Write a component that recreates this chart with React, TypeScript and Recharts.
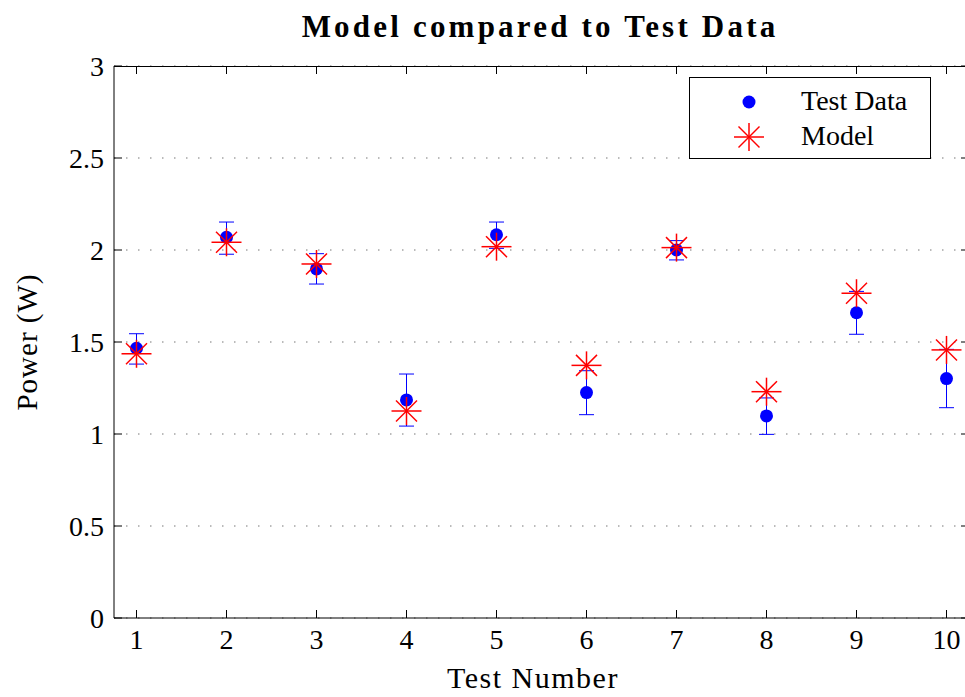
import React from "react";
import {
  ScatterChart,
  Scatter,
  XAxis,
  YAxis,
  CartesianGrid,
  ErrorBar,
} from "recharts";

const testNumbers = [1, 2, 3, 4, 5, 6, 7, 8, 9, 10];
const testPower = [1.466, 2.069, 1.897, 1.185, 2.083, 1.225, 2.0, 1.098, 1.659, 1.301];
const testLow = [1.38, 1.977, 1.815, 1.043, 2.009, 1.105, 1.946, 0.998, 1.542, 1.143];
const testHigh = [1.545, 2.152, 1.98, 1.326, 2.152, 1.344, 2.051, 1.196, 1.775, 1.46];
const modelPower = [1.436, 2.042, 1.924, 1.125, 2.018, 1.373, 2.013, 1.23, 1.765, 1.457];

const xTicks = [1, 2, 3, 4, 5, 6, 7, 8, 9, 10];
const yTicks = [0, 0.5, 1, 1.5, 2, 2.5, 3];

const testData = testNumbers.map((x, i) => ({
  x,
  y: testPower[i],
  err: [testPower[i] - testLow[i], testHigh[i] - testPower[i]],
}));
const modelData = testNumbers.map((x, i) => ({ x, y: modelPower[i] }));

// plot box (px)
const W = 980;
const H = 697;
const LEFT = 114;
const RIGHT = 969;
const TOP = 66;
const BOTTOM = 618;
const TICK = 8;
const FONT = "'Liberation Serif', 'Times New Roman', serif";

const Dot = (props: any) => (
  <circle cx={props.cx} cy={props.cy} r={6.5} fill="#0000ff" />
);

const Star = (props: any) => {
  const { cx, cy } = props;
  return (
    <g stroke="#ff0000" strokeWidth={1.5}>
      <line x1={cx - 15} y1={cy} x2={cx + 15} y2={cy} />
      <line x1={cx} y1={cy - 14} x2={cx} y2={cy + 14} />
      <line x1={cx - 10.5} y1={cy - 10.5} x2={cx + 10.5} y2={cy + 10.5} />
      <line x1={cx - 10.5} y1={cy + 10.5} x2={cx + 10.5} y2={cy - 10.5} />
    </g>
  );
};

const XTick = (props: any) => {
  const { x, payload } = props;
  return (
    <g>
      <line x1={x} y1={BOTTOM} x2={x} y2={BOTTOM - TICK} stroke="#000" />
      <line x1={x} y1={TOP} x2={x} y2={TOP + TICK} stroke="#000" />
      <text
        x={x}
        y={BOTTOM + 31}
        textAnchor="middle"
        fontFamily={FONT}
        fontSize={28}
        fill="#000"
      >
        {payload.value}
      </text>
    </g>
  );
};

const YTick = (props: any) => {
  const { y, payload } = props;
  return (
    <g>
      <line x1={LEFT} y1={y} x2={LEFT + TICK} y2={y} stroke="#000" />
      <line x1={RIGHT} y1={y} x2={RIGHT - TICK} y2={y} stroke="#000" />
      <text
        x={LEFT - 10}
        y={y + 10}
        textAnchor="end"
        fontFamily={FONT}
        fontSize={28}
        fill="#000"
      >
        {payload.value}
      </text>
    </g>
  );
};

export default function App() {
  return (
    <div
      style={{
        position: "absolute",
        left: 0,
        top: 0,
        width: 965,
        height: 697,
        overflow: "hidden",
        background: "#fff",
        fontFamily: FONT,
      }}
    >
      <ScatterChart
        width={W}
        height={H}
        margin={{ top: TOP, right: W - RIGHT, bottom: 0, left: 0 }}
      >
        <CartesianGrid
          vertical={false}
          stroke="#777"
          strokeDasharray="1.5 10.5"
        />
        <XAxis
          type="number"
          dataKey="x"
          domain={[0.75, 10.25]}
          ticks={xTicks}
          allowDataOverflow
          height={H - BOTTOM}
          tickSize={0}
          tickLine={false}
          tick={<XTick />}
          stroke="#000"
          interval={0}
        />
        <YAxis
          type="number"
          dataKey="y"
          domain={[0, 3]}
          ticks={yTicks}
          allowDataOverflow
          width={LEFT}
          tickSize={0}
          tickLine={false}
          tick={<YTick />}
          stroke="#000"
          interval={0}
        />
        <Scatter
          name="Test Data"
          data={testData}
          shape={<Dot />}
          isAnimationActive={false}
        >
          <ErrorBar
            dataKey="err"
            direction="y"
            width={7.5}
            stroke="#0000ff"
            strokeWidth={1}
            isAnimationActive={false}
          />
        </Scatter>
        <Scatter
          name="Model"
          data={modelData}
          shape={<Star />}
          isAnimationActive={false}
        />
      </ScatterChart>

      {/* top and right frame lines */}
      <div
        style={{
          position: "absolute",
          left: LEFT,
          top: TOP,
          width: RIGHT - LEFT,
          height: BOTTOM - TOP,
          borderTop: "1px solid #000",
          borderRight: "1px solid #000",
          boxSizing: "border-box",
          pointerEvents: "none",
        }}
      />

      <div
        style={{
          position: "absolute",
          left: 0,
          width: 1080,
          top: 10,
          textAlign: "center",
          fontWeight: "bold",
          fontSize: 31,
          letterSpacing: 3.2,
          lineHeight: "34px",
        }}
      >
        Model compared to Test Data
      </div>

      <div
        style={{
          position: "absolute",
          left: 0,
          width: 1066,
          top: 661,
          textAlign: "center",
          fontSize: 30,
          lineHeight: "34px",
          letterSpacing: 1.5,
        }}
      >
        Test Number
      </div>

      <div
        style={{
          position: "absolute",
          left: 27 - 100,
          top: 342 - 17,
          width: 200,
          height: 34,
          lineHeight: "34px",
          textAlign: "center",
          fontSize: 29,
          letterSpacing: 1,
          transform: "rotate(-90deg)",
        }}
      >
        Power (W)
      </div>

      {/* legend */}
      <div
        style={{
          position: "absolute",
          left: 689,
          top: 77,
          width: 242,
          height: 82,
          border: "1.5px solid #000",
          boxSizing: "border-box",
          background: "#fff",
          fontSize: 28,
        }}
      >
        <svg
          width={60}
          height={80}
          style={{ position: "absolute", left: 29, top: 0 }}
        >
          <Dot cx={30} cy={24} />
          <Star cx={30} cy={59} />
        </svg>
        <div style={{ position: "absolute", left: 111, top: 6, lineHeight: "34px" }}>
          Test Data
        </div>
        <div style={{ position: "absolute", left: 111, top: 41, lineHeight: "34px" }}>
          Model
        </div>
      </div>
    </div>
  );
}
